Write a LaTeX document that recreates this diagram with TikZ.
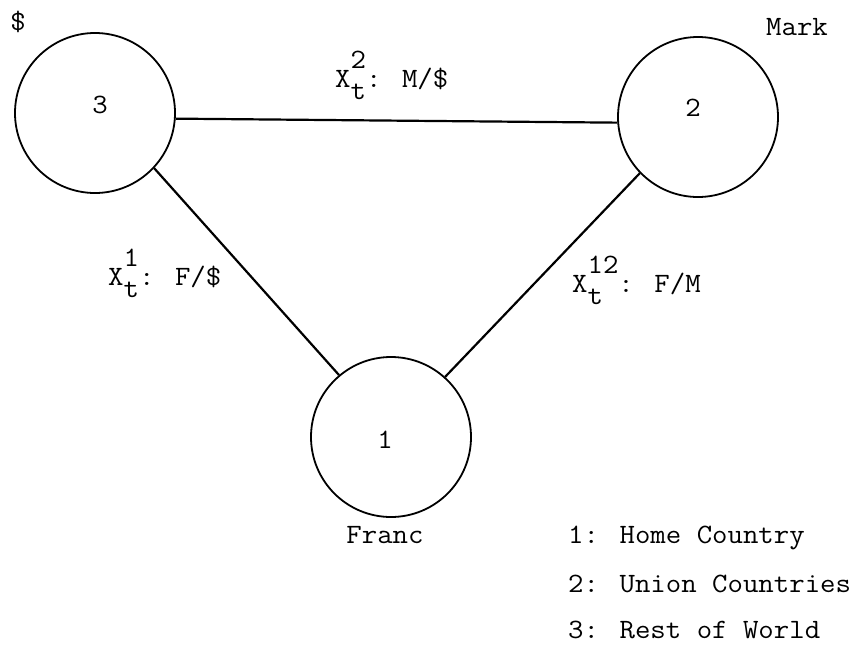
\documentclass[tikz,border=0pt]{standalone}
\usepackage{graphicx}
\newcommand\sx[1]{\scalebox{1.07}[1]{#1}}
\newcommand\xrate[2]{X\rlap{\raisebox{0.66em}{#1}}\raisebox{-0.45em}{t}#2}
\begin{document}
\begin{tikzpicture}[x=1pt,y=-1pt,
  country/.style={circle, draw, line width=1.8pt, minimum size=160pt, inner sep=0pt},
  link/.style={line width=2.2pt},
  txt/.style={font=\fontsize{28}{32}\selectfont\ttfamily, inner sep=0pt},
]
\useasboundingbox (0,0) rectangle (861,651);
% countries
\node[country] (c3) at (95,113) {};
\node[country] (c2) at (698,117) {};
\node[country] (c1) at (391,437) {};
\node[txt] (n3) at (100,105) {\sx{3}};
\node[txt] (n2) at (693,108) {\sx{2}};
\node[txt] (n1) at (385,440) {\sx{1}};
% currency names
\node[txt] (dollar) at (18,22) {\sx{\$}};
\node[txt] (mark) at (797,27) {\sx{Mark}};
\node[txt] (franc) at (385,535) {\sx{Franc}};
% exchange rate links
\draw[link] (c3.-4) -- (c2.184);
\draw[link] (c3.-43) -- (c1.130);
\draw[link] (c2.-136) -- (c1.48);
\node[txt, anchor=base west] (r32) at (335,87) {\sx{\xrate{2}{}: M/\$}};
\node[txt, anchor=base west] (r31) at (108,285) {\sx{\xrate{1}{}: F/\$}};
\node[txt, anchor=base west] (r21) at (572,292) {\sx{\xrate{12}{\hphantom{1}}: F/M}};
% legend
\node[txt, anchor=base west] (k1) at (568,543) {\sx{1: Home Country}};
\node[txt, anchor=base west] (k2) at (568,592) {\sx{2: Union Countries}};
\node[txt, anchor=base west] (k3) at (568,638) {\sx{3: Rest of World}};
\end{tikzpicture}
\end{document}
